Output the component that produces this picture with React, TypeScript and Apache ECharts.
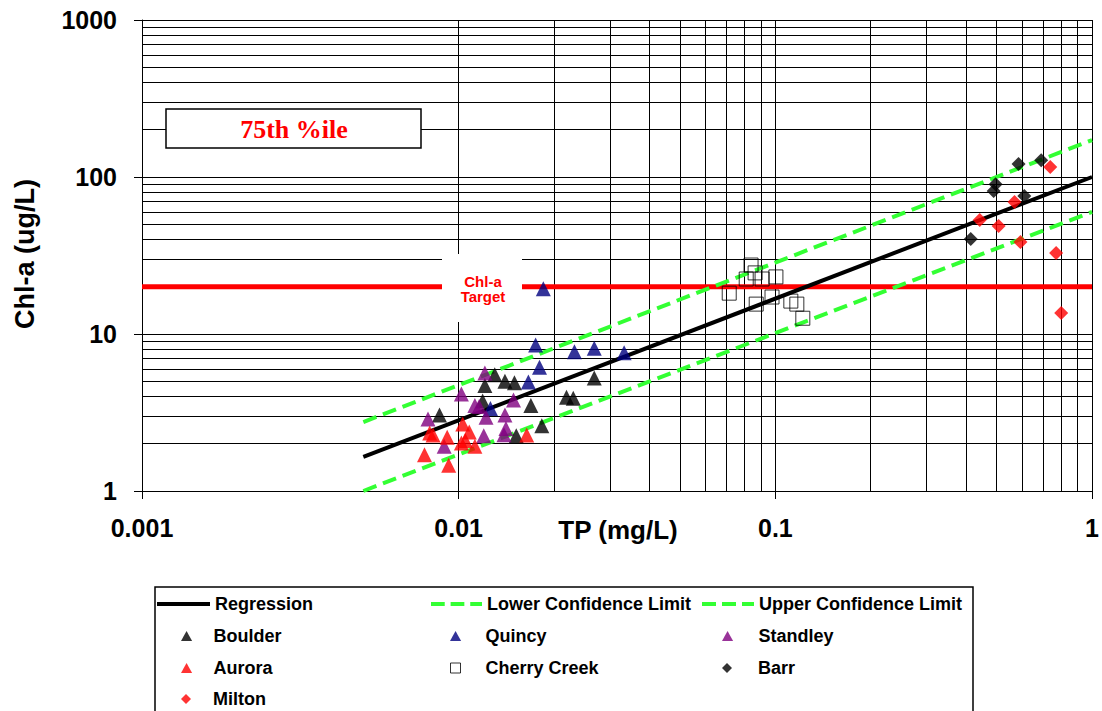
import React, { useEffect, useRef } from 'react';
import * as echarts from 'echarts';

// ---- Data ----
const X_TICK_LABELS = ['0.001', '0.01', '0.1', '1'];
const Y_TICK_LABELS = ['1', '10', '100', '1000'];

const BOULDER_TP = [0.0087, 0.013, 0.014, 0.015, 0.0121, 0.0119, 0.0169, 0.0183, 0.0152, 0.0219, 0.023, 0.0268];
const BOULDER_CHL = [3.05, 5.5, 5.0, 4.9, 4.7, 3.75, 3.5, 2.6, 2.25, 3.95, 3.9, 5.25];

const QUINCY_TP = [0.0185, 0.0175, 0.018, 0.0166, 0.0232, 0.0268, 0.0333, 0.0126];
const QUINCY_CHL = [19.4, 8.5, 6.15, 4.95, 7.7, 8.1, 7.6, 3.35];

const STANDLEY_TP = [0.0121, 0.0102, 0.01125, 0.0116, 0.008, 0.0122, 0.014, 0.0149, 0.0141, 0.012, 0.009, 0.0139];
const STANDLEY_CHL = [5.65, 4.15, 3.5, 3.45, 2.87, 2.95, 3.05, 3.8, 2.5, 2.25, 1.93, 2.28];

const AURORA_TP = [0.0081, 0.0092, 0.0103, 0.0108, 0.0105, 0.01125, 0.0083, 0.0078, 0.0093, 0.0164, 0.0102];
const AURORA_CHL = [2.34, 2.2, 2.67, 2.38, 2.1, 1.93, 2.27, 1.7, 1.46, 2.27, 2.02];

const CHERRY_TP = [0.0838, 0.0863, 0.0809, 0.0908, 0.1004, 0.0715, 0.087, 0.0976, 0.1119, 0.1169, 0.1221];
const CHERRY_CHL = [27.5, 24.5, 22.4, 22.4, 23.1, 18.2, 15.5, 17.2, 16.2, 15.5, 12.6];

const BARR_TP = [0.414, 0.489, 0.496, 0.586, 0.611, 0.691];
const BARR_CHL = [40.3, 81.5, 90, 121, 75.7, 128];

const MILTON_TP = [0.442, 0.507, 0.569, 0.594, 0.738, 0.77, 0.799];
const MILTON_CHL = [53.2, 48.7, 69.3, 38.5, 116, 32.8, 13.6];

const LINE_TP = [0.005, 1];
const REGRESSION_CHL = [1.65, 100];
const LOWER_CL_CHL = [1.0, 60];
const UPPER_CL_CHL = [2.75, 172];

const TARGET_TP = [0.001, 1];
const TARGET_CHL = [20, 20];

const GRID_MULTIPLIERS = [2, 3, 4, 5, 6, 7, 8, 9];
const X_DECADES = [0.001, 0.01, 0.1];
const Y_DECADES = [1, 10, 100];

const zip = (xs: number[], ys: number[]) => xs.map((x, i) => [x, ys[i]]);

const FONT = "'Liberation Sans', Arial, sans-serif";
const GREEN = '#33ff33';

const ICON_TRIANGLE = 'path://M5,0L10,9L0,9Z';
const ICON_DIAMOND = 'path://M5,0L10,5L5,10L0,5Z';
const ICON_SQUARE = 'path://M0,0H9V9H0Z';
const ICON_DASH = 'path://M0,0H14V4H0Z M20,0H34V4H20Z M40,0H52V4H40Z';

export default function App() {
  const ref = useRef<HTMLDivElement>(null);

  useEffect(() => {
    document.body.style.margin = '0';
    const chart = echarts.init(ref.current!, null, { renderer: 'svg' });

    const minorX: number[] = [];
    X_DECADES.forEach((d) => GRID_MULTIPLIERS.forEach((m) => minorX.push(+(d * m).toPrecision(6))));
    const minorY: number[] = [];
    Y_DECADES.forEach((d) => GRID_MULTIPLIERS.forEach((m) => minorY.push(+(d * m).toPrecision(6))));

    const legendText = { fontFamily: FONT, fontSize: 18, fontWeight: 'bold', color: '#000' };
    const leg = (name: string, left: number, top: number, w: number, h: number, icon: string, extra: any = {}) => ({
      data: [{ name, icon }],
      left,
      top,
      itemWidth: w,
      itemHeight: h,
      padding: 0,
      selectedMode: false,
      symbolKeepAspect: true,
      textStyle: legendText,
      ...extra,
    });

    const rows = [595, 627, 659, 690];

    const axisLabelStyle = { fontFamily: FONT, fontSize: 25, fontWeight: 'bold', color: '#000' };

    const scatter = (name: string, xs: number[], ys: number[], symbol: string, size: number, color: string, extra: any = {}) => ({
      name,
      type: 'scatter',
      data: zip(xs, ys),
      symbol,
      symbolSize: size,
      itemStyle: { color },
      z: 3,
      ...extra,
    });

    const option: any = {
      animation: false,
      backgroundColor: '#fff',
      grid: { left: 142, right: 4, top: 20, bottom: 220, containLabel: false },
      xAxis: {
        type: 'log',
        logBase: 10,
        min: 0.001,
        max: 1,
        splitNumber: 3,
        axisLine: { show: true, onZero: false, lineStyle: { color: '#000', width: 1 } },
        axisTick: { show: true, inside: false, length: 8, lineStyle: { color: '#000', width: 1 } },
        axisLabel: { ...axisLabelStyle, margin: 24, formatter: (_v: number, i: number) => X_TICK_LABELS[i] ?? '' },
        splitLine: { show: true, lineStyle: { color: '#000', width: 1 } },
      },
      yAxis: {
        type: 'log',
        logBase: 10,
        min: 1,
        max: 1000,
        splitNumber: 3,
        axisLine: { show: true, onZero: false, lineStyle: { color: '#000', width: 1 } },
        axisTick: { show: true, inside: false, length: 8, lineStyle: { color: '#000', width: 1 } },
        axisLabel: { ...axisLabelStyle, margin: 25, formatter: (_v: number, i: number) => Y_TICK_LABELS[i] ?? '' },
        splitLine: { show: true, lineStyle: { color: '#000', width: 1 } },
      },
      legend: [
        leg('Regression', 157, rows[0], 53, 4, 'rect', { itemStyle: { color: '#000' } }),
        leg('Lower Confidence Limit', 431, rows[0], 51, 4, ICON_DASH, { itemStyle: { color: GREEN } }),
        leg('Upper Confidence Limit', 702, rows[0], 52, 4, ICON_DASH, { itemStyle: { color: GREEN } }),
        leg('Boulder', 181, rows[1], 44, 10, ICON_TRIANGLE),
        leg('Quincy', 450, rows[1], 50, 10, ICON_TRIANGLE),
        leg('Standley', 722, rows[1], 52, 10, ICON_TRIANGLE),
        leg('Aurora', 181, rows[2], 44, 10, ICON_TRIANGLE),
        leg('Cherry Creek', 450, rows[2], 50, 10, ICON_SQUARE, {
          itemStyle: { color: 'rgba(0,0,0,0)', borderColor: '#000', borderWidth: 1 },
        }),
        leg('Barr', 722, rows[2], 52, 10, ICON_DIAMOND),
        leg('Milton', 181, rows[3], 44, 10, ICON_DIAMOND),
      ],
      graphic: {
        elements: [
          {
            type: 'rect',
            z: 10,
            shape: { x: 166, y: 109, width: 255, height: 39 },
            style: { fill: '#fff', stroke: '#000', lineWidth: 1.5 },
          },
          {
            type: 'text',
            z: 11,
            x: 294,
            y: 129,
            style: {
              text: '75th %ile',
              fill: '#ff0000',
              font: "bold 26px 'Liberation Serif', 'Times New Roman', serif",
              align: 'center',
              verticalAlign: 'middle',
              textAlign: 'center',
              textVerticalAlign: 'middle',
            },
          },
          {
            type: 'rect',
            z: 10,
            shape: { x: 442, y: 254, width: 80, height: 68 },
            style: { fill: '#fff' },
          },
          {
            type: 'text',
            z: 11,
            x: 483,
            y: 289,
            style: {
              text: 'Chl-a\nTarget',
              fill: '#ff0000',
              font: `bold 15px ${FONT}`,
              lineHeight: 15,
              align: 'center',
              verticalAlign: 'middle',
              textAlign: 'center',
              textVerticalAlign: 'middle',
            },
          },
          {
            type: 'text',
            z: 11,
            x: 25,
            y: 254,
            rotation: Math.PI / 2,
            style: {
              text: 'Chl-a (ug/L)',
              fill: '#000',
              font: `bold 27px ${FONT}`,
              align: 'center',
              verticalAlign: 'middle',
              textAlign: 'center',
              textVerticalAlign: 'middle',
            },
          },
          {
            type: 'text',
            z: 11,
            x: 618,
            y: 530,
            style: {
              text: 'TP (mg/L)',
              fill: '#000',
              font: `bold 26px ${FONT}`,
              align: 'center',
              verticalAlign: 'middle',
              textAlign: 'center',
              textVerticalAlign: 'middle',
            },
          },
          {
            type: 'rect',
            z: 11,
            shape: { x: 155, y: 587, width: 818, height: 140 },
            style: { fill: 'none', stroke: '#000', lineWidth: 1.5 },
          },
        ],
      },
      series: [
        {
          name: '__grid',
          type: 'line',
          data: [],
          z: 1,
          silent: true,
          markLine: {
            z: 1,
            silent: true,
            animation: false,
            symbol: ['none', 'none'],
            label: { show: false },
            emphasis: { disabled: true },
            lineStyle: { color: '#000', width: 1, type: 'solid' },
            data: [...minorX.map((v) => ({ xAxis: v })), ...minorY.map((v) => ({ yAxis: v }))],
          },
        },
        {
          name: 'Chl-a Target',
          type: 'line',
          data: zip(TARGET_TP, TARGET_CHL),
          symbol: 'none',
          clip: false,
          lineStyle: { color: '#ff0000', width: 5 },
          z: 2,
        },
        {
          name: 'Regression',
          type: 'line',
          data: zip(LINE_TP, REGRESSION_CHL),
          symbol: 'none',
          clip: false,
          itemStyle: { color: '#000' },
          lineStyle: { color: '#000', width: 4 },
          z: 2,
        },
        {
          name: 'Lower Confidence Limit',
          type: 'line',
          data: zip(LINE_TP, LOWER_CL_CHL),
          symbol: 'none',
          clip: false,
          itemStyle: { color: GREEN },
          lineStyle: { color: GREEN, width: 4, type: [14, 7] },
          z: 2,
        },
        {
          name: 'Upper Confidence Limit',
          type: 'line',
          data: zip(LINE_TP, UPPER_CL_CHL),
          symbol: 'none',
          clip: false,
          itemStyle: { color: GREEN },
          lineStyle: { color: GREEN, width: 4, type: [14, 7] },
          z: 2,
        },
        scatter('Boulder', BOULDER_TP, BOULDER_CHL, 'triangle', 15, '#000000'),
        scatter('Quincy', QUINCY_TP, QUINCY_CHL, 'triangle', 15, '#000080'),
        scatter('Standley', STANDLEY_TP, STANDLEY_CHL, 'triangle', 15, '#800080'),
        scatter('Aurora', AURORA_TP, AURORA_CHL, 'triangle', 15, '#ff0000'),
        scatter('Cherry Creek', CHERRY_TP, CHERRY_CHL, 'rect', 14, 'rgba(0,0,0,0)', {
          itemStyle: { color: 'rgba(0,0,0,0)', borderColor: '#000', borderWidth: 1 },
        }),
        scatter('Barr', BARR_TP, BARR_CHL, 'diamond', 14, '#000000'),
        scatter('Milton', MILTON_TP, MILTON_CHL, 'diamond', 14, '#ff0000'),
      ],
    };

    chart.setOption(option);
    return () => chart.dispose();
  }, []);

  return <div ref={ref} style={{ position: 'fixed', left: 0, top: 0, width: 1102, height: 711 }} />;
}
